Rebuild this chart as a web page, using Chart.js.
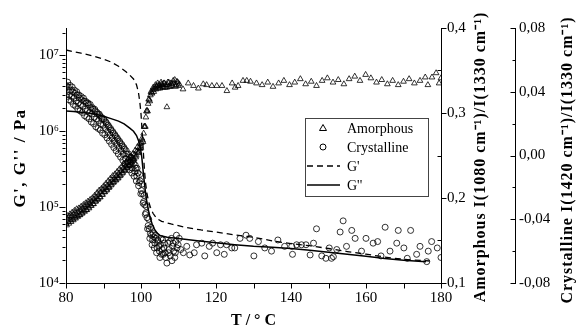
<!DOCTYPE html>
<html>
<head>
<meta charset="utf-8">
<script src="https://cdn.jsdelivr.net/npm/chart.js@4.4.1/dist/chart.umd.min.js"></script>
<style>
  html, body { margin: 0; padding: 0; background: #fff; }
</style>
</head>
<body>
<canvas id="chart" width="581" height="334"></canvas>
<script>
// Rheology (left, log) + Raman band ratios (two right axes) vs temperature

// G' (dashed) and G'' (solid), Pa
const gPrimeT = [80, 82, 84, 86, 88, 90, 92, 94, 96, 97, 98, 98.8, 99.3, 99.7, 100.0, 100.3, 100.6, 100.9, 101.2, 101.6, 102.0, 102.5, 103.2, 104.2, 105.5, 108, 112, 116, 120, 125, 130, 135, 140, 145, 150, 155, 160, 165, 170, 177];
const gPrimeV = [1.18e7, 1.12e7, 1.07e7, 1.02e7, 9.6e6, 8.9e6, 8.2e6, 7.2e6, 6.1e6, 5.5e6, 4.9e6, 4.1e6, 3.3e6, 2.4e6, 1.7e6, 1.0e6, 5.6e5, 3.2e5, 2.1e5, 1.5e5, 1.2e5, 1.0e5, 8.3e4, 7.1e4, 6.5e4, 6.0e4, 5.4e4, 5.0e4, 4.7e4, 4.3e4, 4.0e4, 3.6e4, 3.3e4, 3.1e4, 2.85e4, 2.6e4, 2.4e4, 2.2e4, 2.05e4, 1.95e4];

const gDoubleT = [80, 82, 84, 86, 88, 90, 92, 94, 95.5, 97, 98, 98.8, 99.4, 99.8, 100.2, 100.6, 101.0, 101.4, 101.9, 102.4, 103.0, 103.7, 104.4, 105.2, 107, 110, 115, 120, 125, 130, 135, 140, 145, 150, 155, 160, 165, 170, 176];
const gDoubleV = [1.85e6, 1.82e6, 1.78e6, 1.74e6, 1.68e6, 1.58e6, 1.47e6, 1.36e6, 1.25e6, 1.1e6, 1.0e6, 8.8e5, 7.4e5, 6.2e5, 4.6e5, 2.9e5, 1.9e5, 1.3e5, 9.5e4, 7.4e4, 5.9e4, 5.0e4, 4.5e4, 4.2e4, 4.0e4, 3.85e4, 3.6e4, 3.4e4, 3.2e4, 3.05e4, 2.95e4, 2.85e4, 2.7e4, 2.55e4, 2.4e4, 2.25e4, 2.1e4, 2.0e4, 1.9e4];

// Amorphous ratio I(1080)/I(1330)
const amorphT = [80.0, 80.3, 80.6, 80.9, 81.2, 81.5, 81.8, 82.1, 82.4, 82.7, 83.0, 83.3, 83.6, 83.9, 84.2, 84.5, 84.8, 85.1, 85.4, 85.7,
  86.0, 86.3, 86.6, 86.9, 87.2, 87.5, 87.8, 88.1, 88.4, 88.7, 89.0, 89.3, 89.6, 89.9, 90.2, 90.5, 90.8, 91.1, 91.4, 91.7,
  92.0, 92.3, 92.6, 92.9, 93.2, 93.5, 93.8, 94.1, 94.4, 94.7, 95.0, 95.3, 95.6, 95.9, 96.2, 96.5, 96.8, 97.1, 97.4, 97.7,
  98.0, 98.3, 98.6, 98.9, 99.2, 99.5, 99.8, 100.1, 100.4, 100.7, 101.0, 101.3, 101.6, 101.9, 102.2, 102.5, 102.8, 103.1, 103.4, 103.7,
  104.0, 104.3, 104.6, 104.9, 105.2, 105.5, 105.8, 106.1, 106.4, 106.9, 107.0, 107.4, 107.8, 108.2, 108.6, 109.0, 109.4, 109.8, 110.2,
  111.2, 112.6, 114.0, 115.3, 116.6, 117.5, 118.9, 120.2, 121.6, 122.9, 124.3, 125.1, 125.9, 127.2, 128.2, 129.2, 130.8,
  132.3, 133.8, 135.2, 136.7, 138.1, 139.6, 141.0, 142.5, 143.9, 145.4, 146.8, 148.3, 149.7, 151.2, 152.6, 154.1, 155.5, 157.0,
  158.4, 159.9, 161.3, 162.8, 164.2, 165.7, 167.1, 168.6, 170.0, 171.5, 172.9, 174.4, 175.8, 176.5, 177.6, 178.7, 179.5, 180.0];
const amorphV = [0.170, 0.176, 0.172, 0.178, 0.174, 0.179, 0.175, 0.181, 0.177, 0.182, 0.179, 0.184, 0.180, 0.186, 0.182, 0.188, 0.185, 0.190, 0.186, 0.192,
  0.189, 0.194, 0.191, 0.196, 0.193, 0.199, 0.196, 0.201, 0.198, 0.204, 0.201, 0.207, 0.204, 0.210, 0.207, 0.212, 0.209, 0.215, 0.212, 0.218,
  0.215, 0.221, 0.218, 0.223, 0.221, 0.226, 0.223, 0.229, 0.226, 0.232, 0.229, 0.235, 0.232, 0.238, 0.235, 0.241, 0.238, 0.244, 0.241, 0.247,
  0.245, 0.251, 0.248, 0.255, 0.253, 0.259, 0.258, 0.265, 0.268, 0.276, 0.284, 0.295, 0.303, 0.311, 0.316, 0.321, 0.324, 0.327, 0.325, 0.330,
  0.328, 0.332, 0.329, 0.333, 0.330, 0.334, 0.331, 0.335, 0.330, 0.307, 0.333, 0.336, 0.331, 0.334, 0.338, 0.339, 0.333, 0.336, 0.334,
  0.328, 0.335, 0.332, 0.329, 0.334, 0.333, 0.332, 0.332, 0.332, 0.326, 0.335, 0.330, 0.332, 0.338, 0.338, 0.337, 0.335,
  0.333, 0.336, 0.331, 0.335, 0.338, 0.333, 0.336, 0.340, 0.334, 0.337, 0.332, 0.338, 0.341, 0.336, 0.339, 0.334, 0.340, 0.343,
  0.338, 0.345, 0.341, 0.336, 0.339, 0.334, 0.338, 0.333, 0.337, 0.340, 0.335, 0.338, 0.342, 0.333, 0.342, 0.347, 0.335, 0.341];

// second pass of the dense amorphous band (80-110 °C)
const amorphDenseT = [80.15, 80.45, 80.75, 81.05, 81.35, 81.65, 81.95, 82.25, 82.55, 82.85, 83.15, 83.45, 83.75, 84.05, 84.35, 84.65, 84.95, 85.25, 85.55, 85.85,
  86.15, 86.45, 86.75, 87.05, 87.35, 87.65, 87.95, 88.25, 88.55, 88.85, 89.15, 89.45, 89.75, 90.05, 90.35, 90.65, 90.95, 91.25, 91.55, 91.85,
  92.15, 92.45, 92.75, 93.05, 93.35, 93.65, 93.95, 94.25, 94.55, 94.85, 95.15, 95.45, 95.75, 96.05, 96.35, 96.65, 96.95, 97.25, 97.55, 97.85,
  98.15, 98.45, 98.75, 99.05, 99.35, 99.65, 99.95, 100.25, 100.55, 100.85, 101.15, 101.45, 101.75, 102.05, 102.35, 102.65, 102.95, 103.25, 103.55, 103.85,
  104.15, 104.45, 104.75, 105.05, 105.35, 105.65, 105.95, 106.25, 106.55, 106.85, 107.15, 107.55, 107.95, 108.35, 108.8, 109.2, 109.6, 110.0];
const amorphDenseV = [0.168, 0.179, 0.170, 0.181, 0.172, 0.183, 0.174, 0.185, 0.176, 0.187, 0.178, 0.188, 0.180, 0.190, 0.182, 0.192, 0.184, 0.194, 0.186, 0.196,
  0.188, 0.198, 0.191, 0.200, 0.193, 0.203, 0.196, 0.206, 0.199, 0.209, 0.201, 0.211, 0.204, 0.214, 0.207, 0.217, 0.210, 0.220, 0.213, 0.223,
  0.216, 0.226, 0.219, 0.228, 0.221, 0.231, 0.224, 0.234, 0.227, 0.237, 0.230, 0.240, 0.233, 0.242, 0.236, 0.246, 0.239, 0.249, 0.242, 0.252,
  0.246, 0.256, 0.250, 0.260, 0.254, 0.264, 0.259, 0.270, 0.266, 0.284, 0.284, 0.302, 0.302, 0.316, 0.314, 0.325, 0.323, 0.330, 0.328, 0.333,
  0.331, 0.335, 0.332, 0.329, 0.336, 0.333, 0.330, 0.335, 0.333, 0.330, 0.336, 0.331, 0.335, 0.332, 0.335, 0.331, 0.337, 0.332];

// Crystalline ratio I(1420)/I(1330)
const crystT = [80.0, 80.3, 80.6, 80.9, 81.2, 81.5, 81.8, 82.1, 82.4, 82.7, 83.0, 83.3, 83.6, 83.9, 84.2, 84.5, 84.8, 85.1, 85.4, 85.7,
  86.0, 86.3, 86.6, 86.9, 87.2, 87.5, 87.8, 88.1, 88.4, 88.7, 89.0, 89.3, 89.6, 89.9, 90.2, 90.5, 90.8, 91.1, 91.4, 91.7,
  92.0, 92.3, 92.6, 92.9, 93.2, 93.5, 93.8, 94.1, 94.4, 94.7, 95.0, 95.3, 95.6, 95.9, 96.2, 96.5, 96.8, 97.1, 97.4, 97.7,
  98.0, 98.3, 98.6, 98.9, 99.2, 99.5, 99.8, 100.1, 100.4, 100.7, 101.0, 101.3, 101.6, 101.9, 102.2, 102.5, 102.8, 103.1, 103.4, 103.7,
  104.0, 104.3, 104.6, 104.9, 105.2, 105.5, 105.8, 106.1, 106.4, 106.9, 107.2, 107.5, 107.8, 108.1, 108.4, 108.7, 109.0, 109.3, 109.6, 109.9, 110.2,
  112.2, 113.0, 114.2, 114.8, 116.2, 117.0, 118.2, 119.1, 120.2, 121.2, 122.2, 122.8, 124.2, 125.0, 126.4, 128.0, 129.0, 130.1, 131.3,
  133.0, 134.8, 136.5, 138.3, 140.2, 140.4, 141.5, 142.8, 144.0, 145.1, 146.0, 146.8, 148.2, 149.3, 150.2, 150.8, 151.3, 152.2, 153.1, 153.9,
  154.8, 156.2, 157.1, 158.8, 160.0, 161.9, 163.1, 164.0, 165.1, 166.4, 168.2, 168.6, 170.1, 171.0, 171.9, 173.5, 174.4, 176.2, 176.6, 177.5, 179.0, 180.0];
const crystV = [0.044, 0.040, 0.043, 0.038, 0.041, 0.037, 0.040, 0.036, 0.039, 0.034, 0.038, 0.033, 0.036, 0.032, 0.035, 0.031, 0.034, 0.029, 0.033, 0.028,
  0.032, 0.027, 0.030, 0.026, 0.029, 0.024, 0.028, 0.023, 0.026, 0.022, 0.025, 0.020, 0.023, 0.019, 0.022, 0.017, 0.020, 0.015, 0.018, 0.013,
  0.016, 0.011, 0.014, 0.009, 0.012, 0.007, 0.010, 0.005, 0.008, 0.003, 0.006, 0.001, 0.004, -0.002, 0.001, -0.004, -0.001, -0.006, -0.003, -0.008,
  -0.005, -0.010, -0.008, -0.013, -0.011, -0.017, -0.016, -0.022, -0.024, -0.029, -0.031, -0.036, -0.039, -0.044, -0.046, -0.049, -0.050, -0.053, -0.051, -0.055,
  -0.052, -0.058, -0.054, -0.060, -0.056, -0.062, -0.053, -0.058, -0.061, -0.0675, -0.055, -0.059, -0.063, -0.052, -0.057, -0.060, -0.064, -0.054, -0.058, -0.056, -0.052,
  -0.057, -0.0624, -0.061, -0.056, -0.055, -0.063, -0.057, -0.055, -0.061, -0.056, -0.062, -0.056, -0.058, -0.058, -0.052, -0.050, -0.052, -0.063, -0.054,
  -0.058, -0.060, -0.053, -0.057, -0.057, -0.062, -0.056, -0.056, -0.056, -0.0624, -0.055, -0.046, -0.063, -0.0645, -0.058, -0.0645, -0.0635, -0.059, -0.048, -0.041,
  -0.057, -0.047, -0.052, -0.060, -0.052, -0.055, -0.054, -0.063, -0.045, -0.060, -0.055, -0.047, -0.058, -0.0645, -0.047, -0.062, -0.057, -0.0666, -0.060, -0.054, -0.058, -0.064];

// second pass of the dense crystalline band (80-111 °C)
const crystDenseT = [80.15, 80.45, 80.75, 81.05, 81.35, 81.65, 81.95, 82.25, 82.55, 82.85, 83.15, 83.45, 83.75, 84.05, 84.35, 84.65, 84.95, 85.25, 85.55, 85.85,
  86.15, 86.45, 86.75, 87.05, 87.35, 87.65, 87.95, 88.25, 88.55, 88.85, 89.15, 89.45, 89.75, 90.05, 90.35, 90.65, 90.95, 91.25, 91.55, 91.85,
  92.15, 92.45, 92.75, 93.05, 93.35, 93.65, 93.95, 94.25, 94.55, 94.85, 95.15, 95.45, 95.75, 96.05, 96.35, 96.65, 96.95, 97.25, 97.55, 97.85,
  98.15, 98.45, 98.75, 98.95, 99.35, 99.65, 99.95, 100.25, 100.55, 100.85, 101.15, 101.45, 101.75, 102.05, 102.35, 102.65, 102.95, 103.25, 103.55, 103.85,
  104.15, 104.45, 104.75, 105.05, 105.35, 105.65, 105.95, 106.25, 106.6, 107.35, 107.65, 108.25, 108.55, 109.15, 109.45, 110.6, 111.3];
const crystDenseV = [0.037, 0.046, 0.035, 0.044, 0.034, 0.043, 0.032, 0.041, 0.031, 0.040, 0.029, 0.038, 0.028, 0.037, 0.027, 0.036, 0.025, 0.034, 0.024, 0.033,
  0.023, 0.032, 0.021, 0.030, 0.020, 0.029, 0.018, 0.027, 0.017, 0.026, 0.016, 0.024, 0.014, 0.023, 0.013, 0.021, 0.011, 0.019, 0.009, 0.017,
  0.007, 0.015, 0.005, 0.013, 0.003, 0.011, 0.001, 0.009, -0.001, 0.007, -0.003, 0.005, -0.005, 0.003, -0.007, 0.001, -0.009, -0.001, -0.011, -0.003,
  -0.013, -0.006, -0.016, -0.008, -0.019, -0.012, -0.024, -0.018, -0.030, -0.025, -0.037, -0.032, -0.046, -0.040, -0.052, -0.045, -0.056, -0.049, -0.058, -0.050,
  -0.061, -0.053, -0.057, -0.064, -0.052, -0.059, -0.062, -0.055, -0.064, -0.061, -0.054, -0.066, -0.055, -0.061, -0.050, -0.059, -0.061];

// Axis text
const decadeLabels = ['10\u2074', '10\u2075', '10\u2076', '10\u2077'];
const xTitle = 'T / \u00b0 C';
const yTitle = "G', G'' / Pa";
const y1Title = 'Amorphous I(1080 cm\u207b\u00b9)/I(1330 cm\u207b\u00b9)';
const y2Title = 'Crystalline I(1420 cm\u207b\u00b9)/I(1330 cm\u207b\u00b9)';
const legendLabels = ['Amorphous', 'Crystalline', "G'", "G''"];

const FONT = '"Liberation Serif", "Times New Roman", serif';

function pairs(xs, ys) {
  return xs.map((x, i) => ({ x: x, y: ys[i] }));
}

// minor + major ticks for log axis
const logTicks = [];
[1e4, 1e5, 1e6, 1e7].forEach(d => {
  for (let m = 1; m <= 9; m++) {
    if (m * d <= 2.3e7) logTicks.push(m * d);
  }
});

// tick mark lengths / direction (1 = outward, -1 = towards the plot)
const tickSpec = {
  x:  { major: 5, minor: 5, majorDir: 1, minorDir: 1 },
  y:  { major: 6, minor: 3, majorDir: 1, minorDir: 1 },
  y1: { major: 5, minor: 4, majorDir: 1, minorDir: -1 },
  y2: { major: 5, minor: 3, majorDir: -1, minorDir: -1 }
};

function axisBase(pad) {
  return {
    border: { display: true, color: '#000', width: 1 },
    grid: { display: true, drawOnChartArea: false, drawTicks: false },
    ticks: { color: '#000', font: { family: FONT, size: 15 }, padding: pad, autoSkip: false, maxRotation: 0 },
    title: { display: false }
  };
}

// own tick marks so major/minor can differ in length and side
const tickMarks = {
  id: 'tickMarks',
  afterDraw(chart) {
    const ctx = chart.ctx;
    ctx.save();
    ctx.strokeStyle = '#000';
    ctx.lineWidth = 1;
    ctx.beginPath();
    Object.values(chart.scales).forEach(s => {
      const spec = tickSpec[s.id];
      if (!spec) return;
      s.ticks.forEach(t => {
        const major = t.label !== '' && t.label !== undefined;
        const len = (major ? spec.major : spec.minor) * (major ? spec.majorDir : spec.minorDir);
        const p = Math.round(s.getPixelForValue(t.value)) + 0.5;
        if (s.isHorizontal()) {
          const y0 = Math.round(s.top) + 0.5;
          ctx.moveTo(p, y0);
          ctx.lineTo(p, y0 + len);
        } else if (s.position === 'left') {
          const x0 = Math.round(s.right) - 0.5;
          ctx.moveTo(x0, p);
          ctx.lineTo(x0 - len, p);
        } else {
          const x0 = Math.round(s.left) + 0.5;
          ctx.moveTo(x0, p);
          ctx.lineTo(x0 + len, p);
        }
      });
    });
    ctx.stroke();
    ctx.restore();
  }
};

// Axis titles + custom legend box
const decorations = {
  id: 'decorations',
  afterDraw(chart) {
    const ctx = chart.ctx;
    const a = chart.chartArea;
    ctx.save();
    ctx.fillStyle = '#000';
    ctx.textAlign = 'center';
    ctx.textBaseline = 'middle';
    ctx.font = 'bold 16px ' + FONT;
    ctx.fillText(xTitle, (a.left + a.right) / 2, 321);

    const rotated = (text, x, y, font, spacing) => {
      ctx.save();
      ctx.translate(x, y);
      ctx.rotate(-Math.PI / 2);
      ctx.font = font;
      ctx.letterSpacing = spacing;
      ctx.fillText(text, 0, 0);
      ctx.restore();
    };
    rotated(yTitle, 21, 158, 'bold 17px ' + FONT, '1.5px');
    rotated(y1Title, 481, 157, 'bold 16px ' + FONT, '1px');
    rotated(y2Title, 568, 160, 'bold 16px ' + FONT, '1px');

    // legend
    const bx = 305, by = 118, bw = 123, bh = 78;
    ctx.strokeStyle = '#444';
    ctx.lineWidth = 1;
    ctx.strokeRect(bx + 0.5, by + 0.5, bw, bh);
    ctx.font = '14px ' + FONT;
    ctx.textAlign = 'left';
    const rowY = [128, 147, 166, 185];
    const mx = 323;
    ctx.strokeStyle = '#000';
    // triangle
    ctx.beginPath();
    ctx.moveTo(mx, rowY[0] - 3.5);
    ctx.lineTo(mx + 3.5, rowY[0] + 2.5);
    ctx.lineTo(mx - 3.5, rowY[0] + 2.5);
    ctx.closePath();
    ctx.stroke();
    // circle
    ctx.beginPath();
    ctx.arc(mx, rowY[1], 3, 0, Math.PI * 2);
    ctx.stroke();
    // dashed
    ctx.lineWidth = 1.3;
    ctx.setLineDash([6, 4]);
    ctx.beginPath();
    ctx.moveTo(307, rowY[2]);
    ctx.lineTo(340, rowY[2]);
    ctx.stroke();
    ctx.setLineDash([]);
    ctx.beginPath();
    ctx.moveTo(307, rowY[3]);
    ctx.lineTo(340, rowY[3]);
    ctx.stroke();
    legendLabels.forEach((t, i) => ctx.fillText(t, 347, rowY[i] + 1));
    ctx.restore();
  }
};

const xAxis = axisBase(6);
Object.assign(xAxis, {
  type: 'linear', position: 'bottom', min: 80, max: 180,
  afterFit: s => { s.height = 51; }
});
xAxis.ticks.stepSize = 10;
xAxis.ticks.callback = v => (v % 20 === 0 ? String(v) : '');

const yAxis = axisBase(7);
Object.assign(yAxis, {
  type: 'logarithmic', position: 'left', min: 1e4, max: 2.3e7,
  afterBuildTicks: s => { s.ticks = logTicks.map(v => ({ value: v })); },
  afterFit: s => { s.width = 66; }
});
yAxis.ticks.callback = v => {
  const e = Math.round(Math.log10(v));
  return Math.abs(v - Math.pow(10, e)) < 1e-6 * v ? decadeLabels[e - 4] : '';
};

const y1Axis = axisBase(6);
Object.assign(y1Axis, {
  type: 'linear', position: 'right', min: 0.1, max: 0.4,
  afterFit: s => { s.width = 74; }
});
y1Axis.ticks.stepSize = 0.05;
y1Axis.ticks.callback = v => (Math.round(v * 100) % 10 === 0 ? v.toFixed(1).replace('.', ',') : '');

const y2Axis = axisBase(4);
Object.assign(y2Axis, {
  type: 'linear', position: 'right', min: -0.08, max: 0.08,
  afterFit: s => { s.width = 66; }
});
y2Axis.ticks.stepSize = 0.02;
y2Axis.ticks.callback = v => {
  if (Math.round(v * 100) % 4 !== 0) return '';
  if (Math.abs(v) < 1e-9) return '0,00';
  return v.toFixed(2).replace('.', ',');
};

new Chart(document.getElementById('chart'), {
  type: 'scatter',
  data: {
    datasets: [
      {
        label: 'Amorphous',
        data: pairs(amorphT, amorphV).concat(pairs(amorphDenseT, amorphDenseV)),
        yAxisID: 'y1',
        pointStyle: 'triangle',
        pointRadius: 3.3,
        borderColor: '#000',
        borderWidth: 0.8,
        backgroundColor: 'rgba(0,0,0,0)'
      },
      {
        label: 'Crystalline',
        data: pairs(crystT, crystV).concat(pairs(crystDenseT, crystDenseV)),
        yAxisID: 'y2',
        pointStyle: 'circle',
        pointRadius: 3,
        borderColor: '#000',
        borderWidth: 0.8,
        backgroundColor: 'rgba(0,0,0,0)'
      },
      {
        label: "G'",
        data: pairs(gPrimeT, gPrimeV),
        yAxisID: 'y',
        showLine: true,
        pointRadius: 0,
        borderColor: '#000',
        borderWidth: 1.3,
        borderDash: [6, 4]
      },
      {
        label: "G''",
        data: pairs(gDoubleT, gDoubleV),
        yAxisID: 'y',
        showLine: true,
        pointRadius: 0,
        borderColor: '#000',
        borderWidth: 1.5
      }
    ]
  },
  options: {
    responsive: false,
    devicePixelRatio: 1,
    animation: false,
    layout: { padding: { top: 28, left: 0, right: 0, bottom: 0 } },
    plugins: { legend: { display: false }, tooltip: { enabled: false } },
    scales: { x: xAxis, y: yAxis, y1: y1Axis, y2: y2Axis }
  },
  plugins: [tickMarks, decorations]
});
</script>
</body>
</html>
